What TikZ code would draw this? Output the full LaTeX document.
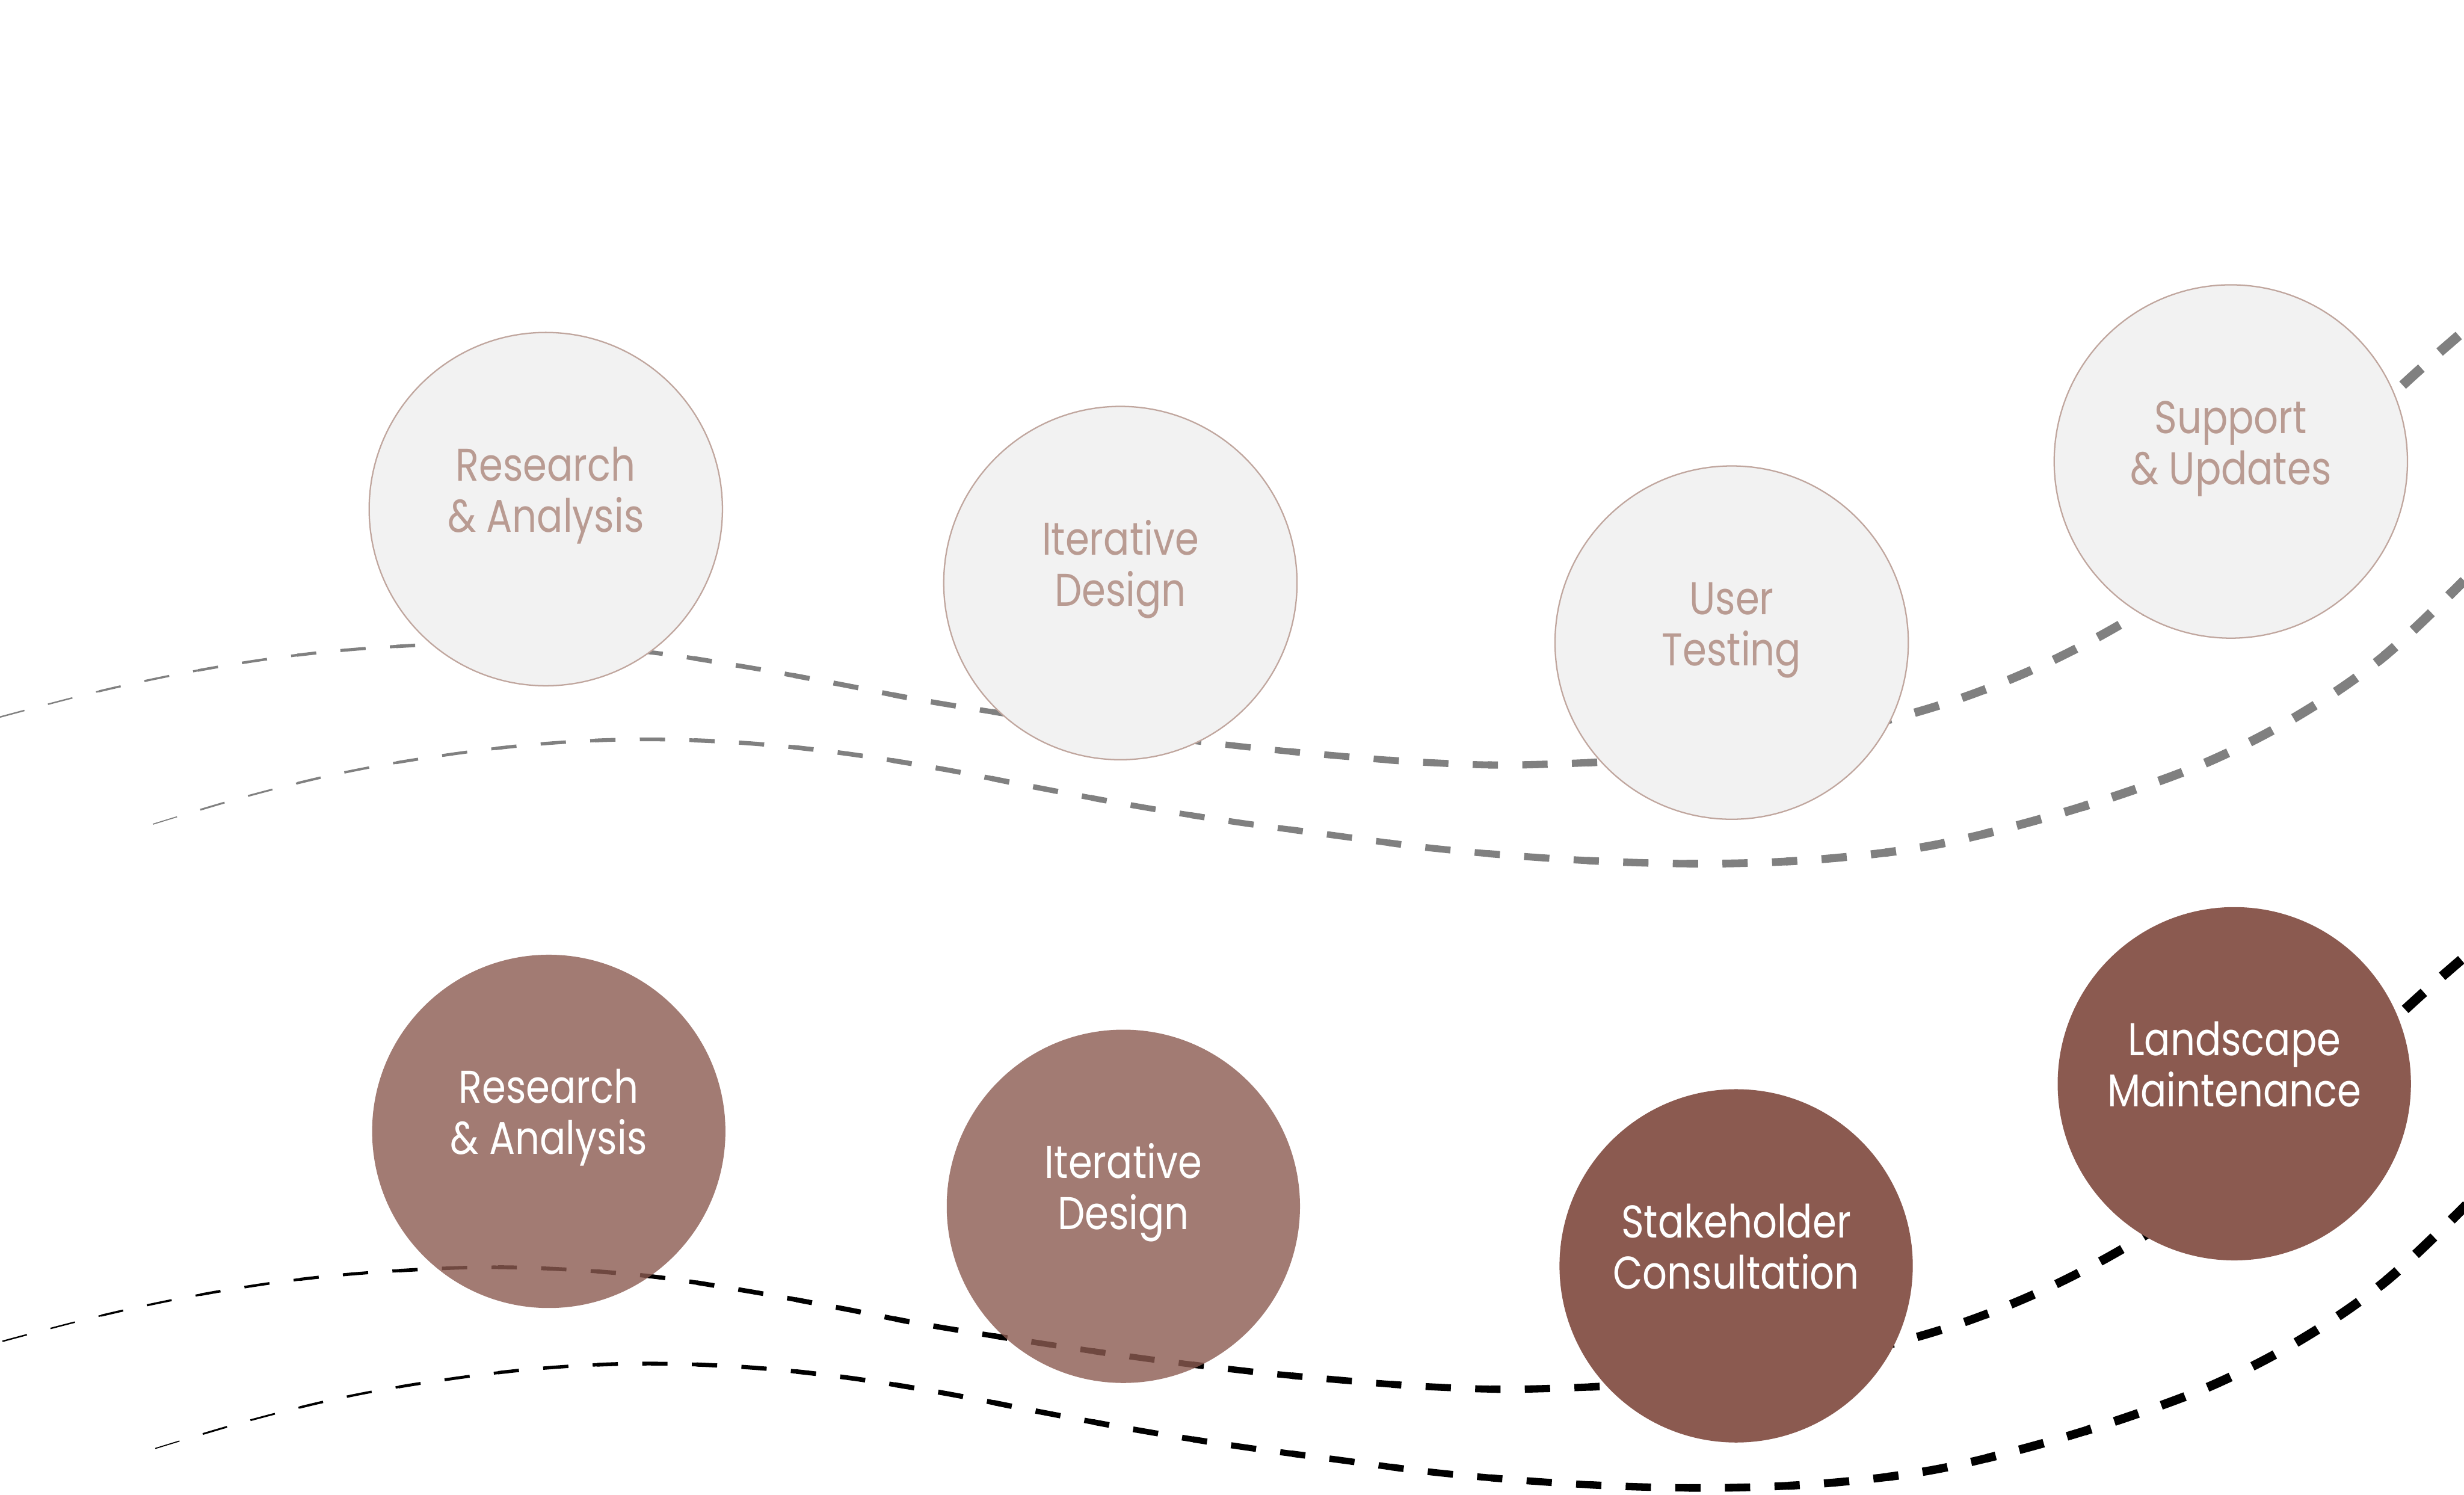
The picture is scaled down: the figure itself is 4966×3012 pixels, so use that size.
\documentclass[tikz,border=0pt]{standalone}
\usepackage{fontspec}
\newfontfamily\labfont[FakeStretch=0.84]{Poppins}
\definecolor{lineg}{RGB}{128,128,128}
\definecolor{ringc}{RGB}{192,166,158}
\definecolor{ltxt}{RGB}{185,155,146}
\definecolor{lfill}{RGB}{242,242,242}
\definecolor{dkfill}{RGB}{139,90,80}
\tikzset{
  dashline/.style={dash pattern=on 10.2pt off 9.8pt},
  topc/.style={circle, draw=ringc, line width=0.55pt, fill=lfill, minimum size=142.4pt, inner sep=0pt},
  botc/.style={circle, fill=dkfill, minimum size=142.4pt, inner sep=0pt},
  botlight/.style={botc, fill opacity=0.8},
  lab/.style={font=\labfont\fontsize{18.5pt}{20pt}\selectfont, anchor=base, inner sep=0pt},
  toptext/.style={lab, text=ltxt},
  bottext/.style={lab, text=white},
}
\def\curveA{plot[smooth, tension=0.6] coordinates {
 (0,1445) (200,1393) (394,1352) (593,1321) (794,1303) (1022,1296) (1278,1311)
 (1491,1342) (1688,1378) (1886,1416) (2233,1470) (2482,1502) (2683,1522)
 (2884,1537) (3085,1541) (3400,1524) (3650,1485) (3877,1431) (4068,1362)
 (4248,1273) (4401,1175) (4555,1046) (4708,902) (4861,759) (4966,667)}}
\def\curveB{plot[smooth, tension=0.6] coordinates {
 (308,1661) (500,1604) (697,1556) (895,1522) (1092,1499) (1292,1490) (1496,1497)
 (1693,1517) (1895,1549) (2090,1587) (2288,1624) (2486,1656) (2686,1683)
 (2884,1709) (3085,1727) (3286,1738) (3488,1740) (3688,1730) (3887,1705)
 (4082,1659) (4276,1600) (4462,1530) (4640,1437) (4804,1323) (4966,1170)}}
\newcommand\taperpair[1]{%
  \foreach \i in {0,...,24} {
    \pgfmathsetmacro\lwa{0.4+3.6*(((\i+0.5)*200)/4966)^0.75}
    \pgfmathsetmacro\lwb{0.4+3.6*(max(0.002,((\i+0.5)*200-308)/4658))^0.75}
    \begin{scope}
      \clip (\i*200-1,-100) rectangle (\i*200+201,3100);
      \draw[#1, line width=\lwa pt, dashline] \curveA;
      \draw[#1, line width=\lwb pt, dashline] \curveB;
    \end{scope}
  }}
\begin{document}
\begin{tikzpicture}[x=0.2pt, y=-0.2pt]
\useasboundingbox (0,0) rectangle (4966,3012);
\fill[white] (0,0) rectangle (4966,3012);

% ---- top curves (gray)
\taperpair{lineg}
% ---- bottom curves (black)
\begin{scope}[shift={(5,1258)}]
\taperpair{black}
\end{scope}

% ---- top circles
\node[topc] (t1) at (1100,1026) {};
\node[topc] (t2) at (2258,1175) {};
\node[topc] (t3) at (3490,1295) {};
\node[topc] (t4) at (4496,930) {};
\node[toptext] (t1a) at ([yshift=11.4pt]t1.center) {Research};
\node[toptext] (t1b) at ([yshift=-9.2pt]t1.center) {\& Analysis};
\node[toptext] (t2a) at ([yshift=11.4pt]t2.center) {Iterative};
\node[toptext] (t2b) at ([yshift=-9.2pt]t2.center) {Design};
\node[toptext] (t3a) at ([yshift=11.4pt]t3.center) {User};
\node[toptext] (t3b) at ([yshift=-9.2pt]t3.center) {Testing};
\node[toptext] (t4a) at ([yshift=11.4pt]t4.center) {Support};
\node[toptext] (t4b) at ([yshift=-9.2pt]t4.center) {\& Updates};

% ---- bottom circles
\node[botlight] (b1) at (1106,2280) {};
\node[botlight] (b2) at (2264,2431) {};
\node[botc] (b3) at (3499,2551) {};
\node[botc] (b4) at (4503,2184) {};
\node[bottext] (b1a) at ([yshift=11.4pt]b1.center) {Research};
\node[bottext] (b1b) at ([yshift=-9.2pt]b1.center) {\& Analysis};
\node[bottext] (b2a) at ([yshift=11.4pt]b2.center) {Iterative};
\node[bottext] (b2b) at ([yshift=-9.2pt]b2.center) {Design};
\node[bottext] (b3a) at ([yshift=11.4pt]b3.center) {Stakeholder};
\node[bottext] (b3b) at ([yshift=-9.2pt]b3.center) {Consultation};
\node[bottext] (b4a) at ([yshift=11.4pt]b4.center) {Landscape};
\node[bottext] (b4b) at ([yshift=-9.2pt]b4.center) {Maintenance};
\end{tikzpicture}
\end{document}
